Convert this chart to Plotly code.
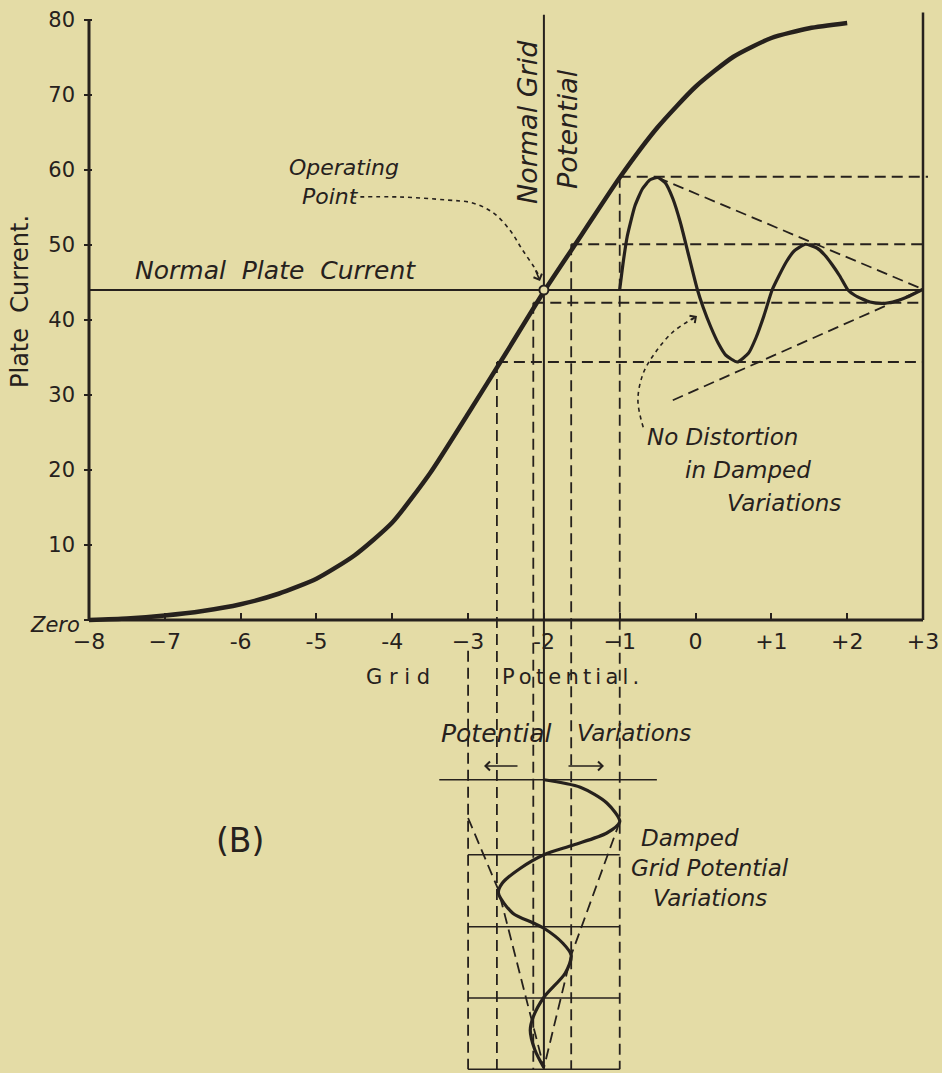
import plotly.graph_objects as go

# ---------------- data ----------------
# characteristic curve: plate current vs grid potential
grid_potential = [-8, -7.5, -7, -6.5, -6, -5.5, -5, -4.5, -4, -3.5, -3, -2.5, -2, -1.5, -1,
                  -0.5, 0, 0.5, 1, 1.5, 2]
plate_current = [0, 0.2, 0.6, 1.2, 2.1, 3.5, 5.5, 8.6, 13.0, 19.6, 27.5, 35.6, 43.8, 51.4, 59.0,
                 65.7, 71.1, 75.1, 77.6, 78.9, 79.6]

# damped plate current variations (drawn against the grid-potential scale, right part)
osc_x = [-1.0, -0.95, -0.9, -0.8, -0.7, -0.6, -0.5, -0.4, -0.3, -0.2, -0.1, 0.02, 0.1, 0.2, 0.3,
         0.4, 0.55, 0.7, 0.8, 0.9, 1.01, 1.1, 1.2, 1.3, 1.45, 1.6, 1.7, 1.8, 1.9, 2.01, 2.1,
         2.2, 2.3, 2.47, 2.6, 2.7, 2.8, 2.9, 3.0]
osc_y = [44.1, 48.0, 51.2, 55.2, 57.5, 58.7, 59.0, 58.3, 56.2, 53.0, 49.0, 44.2, 41.7, 39.1, 36.9,
         35.3, 34.4, 35.6, 37.7, 40.5, 44.0, 45.9, 47.8, 49.2, 50.1, 49.6, 48.7, 47.4, 45.9, 44.0, 43.3,
         42.8, 42.4, 42.2, 42.4, 42.7, 43.1, 43.6, 44.1]

# damped grid potential variations (lower diagram, time runs downward)
wave_grid = [-2.0, -1.52, -1.17, -1.0, -1.17, -1.61, -2.0, -2.31, -2.55, -2.6, -2.41, -2.14,
             -2.0, -1.75, -1.64, -1.72, -2.0, -2.14, -2.18, -2.12, -2.0]
wave_time = [-21.3, -22.3, -24.4, -26.9, -28.4, -30.0, -31.3, -33.1, -35.1, -36.4, -39.1, -40.4,
             -41.1, -43.1, -44.7, -47.1, -50.3, -52.9, -54.7, -57.3, -59.7]

normal_grid = -2
normal_plate = 44
plate_levels = [59.1, 50.1, 42.3, 34.4]
grid_levels = [-1.0, -1.64, -2.14, -2.62]

upper_env_x = [-0.5, 3.0]
upper_env_y = [59.0, 44.1]
lower_env_x = [-0.3, 3.0]
lower_env_y = [29.3, 44.1]

wave_env_left_x = [-3.0, -2.6, -2.0]
wave_env_left_t = [-26.4, -36.0, -59.7]
wave_env_right_x = [-1.0, -1.64, -2.0]
wave_env_right_t = [-26.9, -44.7, -59.7]

time_rows = [-21.3, -31.3, -40.9, -50.4, -59.9]

op_arrow_x = [-4.53, -3.90, -3.28, -2.94, -2.67, -2.45, -2.28, -2.12, -2.05]
op_arrow_y = [56.4, 56.4, 56.0, 55.6, 54.3, 52.0, 49.3, 46.9, 45.6]
nd_arrow_x = [-0.69, -0.76, -0.69, -0.535, -0.31, -0.07, 0.0]
nd_arrow_y = [25.7, 29.3, 32.9, 35.6, 38.3, 40.0, 40.4]

x_ticks = [-8, -7, -6, -5, -4, -3, -2, -1, 0, 1, 2, 3]
x_tick_text = ["\u22128", "\u22127", "-6", "-5", "-4", "\u22123", "-2", "\u22121", "0", "+1", "+2", "+3"]
y_ticks = [0, 10, 20, 30, 40, 50, 60, 70, 80]
y_tick_text = ["", "10", "20", "30", "40", "50", "60", "70", "80"]

# ---------------- style ----------------
BG = "#E4DCA6"
INK = "#26211d"
FONT = "DejaVu Sans"
W, H = 942, 1073
ML, MR, MT, MB = 84, 14, 5, 0
PW, PH = W - ML - MR, H - MT - MB
PX_PER_X = 834 / 11.0
PX_PER_Y = 7.5
X0_PX, Y0_PX = 89, 620


def X(px):
    return -8 + (px - X0_PX) / PX_PER_X


def Y(py):
    return (Y0_PX - py) / PX_PER_Y


x_range = [X(ML), X(W - MR)]
y_range = [Y(H - MB), Y(MT)]
axis_pos = (0 - y_range[0]) / (y_range[1] - y_range[0])

DASH = "11px,6px"

fig = go.Figure()

# characteristic
fig.add_trace(go.Scatter(x=grid_potential, y=plate_current, mode="lines",
                         line=dict(color=INK, width=4.5, shape="spline", smoothing=0.6)))
# oscillation
fig.add_trace(go.Scatter(x=osc_x, y=osc_y, mode="lines",
                         line=dict(color=INK, width=3.2, shape="spline", smoothing=0.5)))
# envelopes
for ex, ey in [(upper_env_x, upper_env_y), (lower_env_x, lower_env_y),
               (wave_env_left_x, wave_env_left_t), (wave_env_right_x, wave_env_right_t)]:
    fig.add_trace(go.Scatter(x=ex, y=ey, mode="lines",
                             line=dict(color=INK, width=1.8, dash=DASH)))
# lower wave
fig.add_trace(go.Scatter(x=wave_grid, y=wave_time, mode="lines",
                         line=dict(color=INK, width=3.2, shape="spline", smoothing=0.8)))
# dotted pointer curves
fig.add_trace(go.Scatter(x=op_arrow_x, y=op_arrow_y, mode="lines",
                         line=dict(color=INK, width=1.6, dash="4px,4px", shape="spline")))
fig.add_trace(go.Scatter(x=nd_arrow_x, y=nd_arrow_y, mode="lines",
                         line=dict(color=INK, width=1.6, dash="4px,4px", shape="spline")))
# operating point
fig.add_trace(go.Scatter(x=[normal_grid], y=[normal_plate], mode="markers",
                         marker=dict(symbol="circle", size=9, color=BG,
                                     line=dict(color=INK, width=2))))

shapes = []


def line(x0, y0, x1, y1, width=2, dash=None):
    d = dict(type="line", xref="x", yref="y", x0=x0, y0=y0, x1=x1, y1=y1,
             line=dict(color=INK, width=width), layer="below")
    if dash:
        d["line"]["dash"] = dash
    shapes.append(d)


# axes frame
line(-8, 0, -8, 80.1, 3)
line(-8, 0, 3, 0, 3)
line(3, 0, 3, 81, 2.5)
# normal grid potential / normal plate current
line(normal_grid, 80.7, normal_grid, time_rows[-1], 2)
line(-8, normal_plate, 3, normal_plate, 2)
# projections
for i, (pl, gl) in enumerate(zip(plate_levels, grid_levels)):
    line(gl, pl, 3.13 if i == 0 else 3, pl, 1.8, DASH)
    line(gl, pl, gl, time_rows[-1], 1.8, DASH)
line(-3, -4.1, -3, time_rows[-1], 1.8, DASH)
# time rows of lower diagram
line(-3.38, time_rows[0], -0.51, time_rows[0], 1.6)
for t in time_rows[1:]:
    line(-3, t, -1, t, 1.6)

annotations = []


def text(s, px, py, size=22, angle=0, xanchor="center", italic=True):
    annotations.append(dict(text=f"<i>{s}</i>" if italic else s,
                            x=(px - ML) / PW, y=1 - (py - MT) / PH,
                            xref="paper", yref="paper", showarrow=False, textangle=angle,
                            xanchor=xanchor, yanchor="middle",
                            font=dict(family=FONT, size=size, color=INK)))


text("Normal  Plate  Current", 133, 270, 25, xanchor="left")
text("Operating", 287, 168, 22, xanchor="left")
text("Point", 300, 196, 22, xanchor="left")
text("Normal Grid", 528, 122, 27, angle=-90)
text("Potential", 567, 129, 27, angle=-90)
text("No Distortion", 645, 437, 23, xanchor="left")
text("in Damped", 683, 470, 23, xanchor="left")
text("Variations", 725, 503, 23, xanchor="left")
text("G r i d", 364, 677, 21, xanchor="left", italic=False)
text("P\u2009o\u2009t\u2009e\u2009n\u2009t\u2009i\u2009a\u2009l\u2009.", 500, 677, 21, xanchor="left", italic=False)
text("Plate  Current.", 20, 302, 24, angle=-90, italic=False)
text("Zero", 82, 625, 21, xanchor="right")
text("Potential", 439, 733, 25, xanchor="left")
text("Variations", 575, 733, 23, xanchor="left")
text("(B)", 240, 840, 33, italic=False)
text("Damped", 639, 838, 23, xanchor="left")
text("Grid Potential", 629, 868, 23, xanchor="left")
text("Variations", 651, 898, 23, xanchor="left")


def arrow(px_head, py_head, dx, dy):
    annotations.append(dict(x=(px_head - ML) / PW, y=1 - (py_head - MT) / PH,
                            xref="paper", yref="paper",
                            ax=dx, ay=dy, axref="pixel", ayref="pixel",
                            showarrow=True, arrowhead=4, arrowsize=1.1, arrowwidth=1.6,
                            arrowcolor=INK, text=""))


arrow(484, 766, 35, 0)
arrow(604, 766, -37, 0)
arrow(540, 281, -5, -12)
arrow(697, 316, -7, 5)

fig.update_layout(
    width=W, height=H,
    margin=dict(l=ML, r=MR, t=MT, b=MB),
    paper_bgcolor=BG, plot_bgcolor=BG,
    showlegend=False, hovermode=False,
    shapes=shapes, annotations=annotations,
    font=dict(family=FONT, color=INK, size=22),
    xaxis=dict(range=x_range, anchor="free", position=axis_pos,
               showline=False, showgrid=False, zeroline=False,
               ticks="inside", ticklen=7, tickwidth=2, tickcolor=INK,
               tickvals=x_ticks, ticktext=x_tick_text, ticklabelstandoff=6,
               tickfont=dict(family=FONT, size=22, color=INK)),
    yaxis=dict(range=y_range, showline=False, showgrid=False, zeroline=False,
               ticks="inside", ticklen=8, tickwidth=2, tickcolor=INK,
               tickvals=y_ticks, ticktext=y_tick_text, ticklabelstandoff=8,
               tickfont=dict(family=FONT, size=21, color=INK)),
)

fig.write_html("out.html", config={"displayModeBar": False, "staticPlot": True},
               post_script="document.body.style.margin='0';document.body.style.overflow='hidden';")
